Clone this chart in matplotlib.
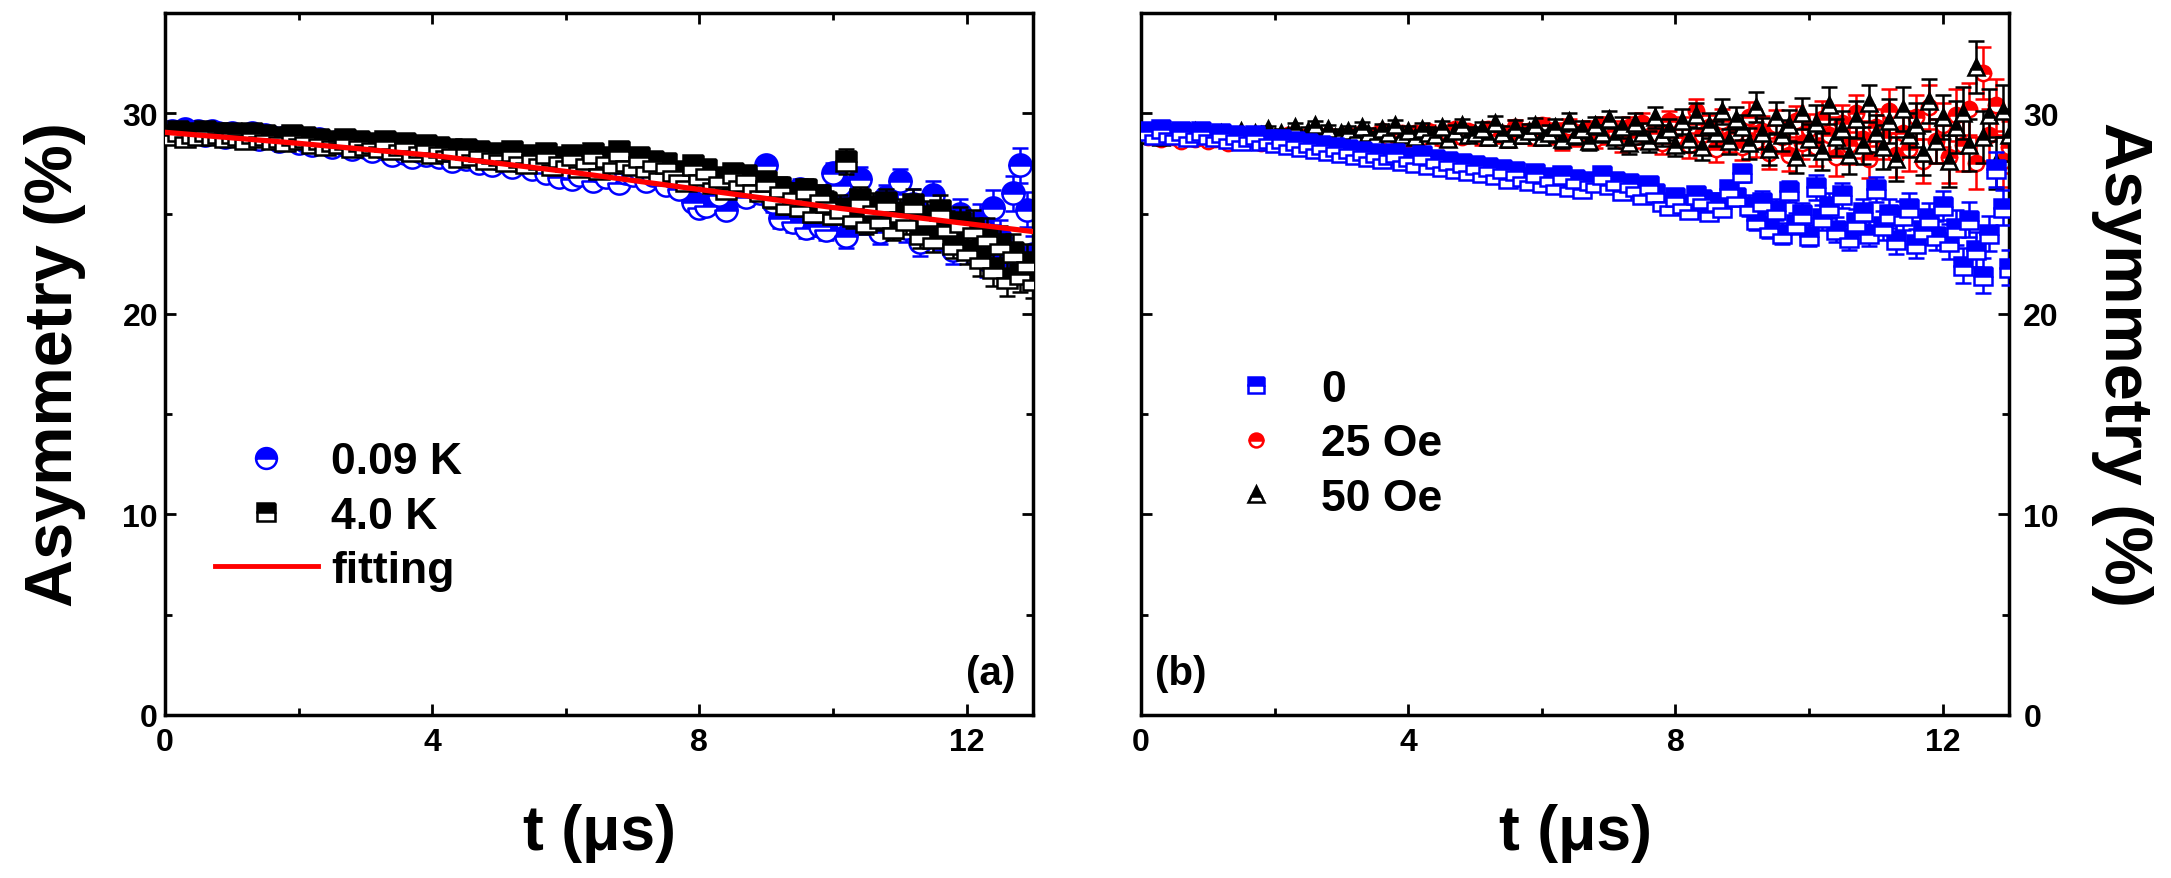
import numpy as np
import matplotlib
matplotlib.use("Agg")
import matplotlib.pyplot as plt
from matplotlib.lines import Line2D

# time bins (us)
t = [0.1, 0.2, 0.3, 0.4, 0.5, 0.6, 0.7, 0.8, 0.9, 1.0,
     1.1, 1.2, 1.3, 1.4, 1.5, 1.6, 1.7, 1.8, 1.9, 2.0,
     2.1, 2.2, 2.3, 2.4, 2.5, 2.6, 2.7, 2.8, 2.9, 3.0,
     3.1, 3.2, 3.3, 3.4, 3.5, 3.6, 3.7, 3.8, 3.9, 4.0,
     4.1, 4.2, 4.3, 4.4, 4.5, 4.6, 4.7, 4.8, 4.9, 5.0,
     5.1, 5.2, 5.3, 5.4, 5.5, 5.6, 5.7, 5.8, 5.9, 6.0,
     6.1, 6.2, 6.3, 6.4, 6.5, 6.6, 6.7, 6.8, 6.9, 7.0,
     7.1, 7.2, 7.3, 7.4, 7.5, 7.6, 7.7, 7.8, 7.9, 8.0,
     8.1, 8.2, 8.3, 8.4, 8.5, 8.6, 8.7, 8.8, 8.9, 9.0,
     9.1, 9.2, 9.3, 9.4, 9.5, 9.6, 9.7, 9.8, 9.9, 10.0,
     10.1, 10.2, 10.3, 10.4, 10.5, 10.6, 10.7, 10.8, 10.9, 11.0,
     11.1, 11.2, 11.3, 11.4, 11.5, 11.6, 11.7, 11.8, 11.9, 12.0,
     12.1, 12.2, 12.3, 12.4, 12.5, 12.6, 12.7, 12.8, 12.9, 13.0]

# (a) 0.09 K
a_009K = [29.1, 29.0, 29.2, 29.0, 29.1, 28.9, 29.1, 29.0, 28.8, 29.0,
          28.9, 28.8, 29.0, 28.7, 28.9, 28.8, 28.6, 28.8, 28.7, 28.5,
          28.6, 28.4, 28.7, 28.5, 28.3, 28.6, 28.4, 28.2, 28.5, 28.3,
          28.1, 28.4, 28.2, 27.9, 28.3, 28.0, 27.8, 28.1, 27.9, 28.2,
          27.8, 28.0, 27.6, 27.9, 27.7, 28.1, 27.5, 27.8, 27.4, 27.7,
          27.9, 27.3, 27.6, 27.8, 27.2, 27.5, 27.0, 27.4, 26.8, 27.3,
          26.7, 26.9, 27.5, 26.6, 27.1, 26.8, 27.3, 26.5, 27.0, 26.9,
          27.2, 26.6, 26.9, 27.1, 26.4, 26.8, 26.2, 26.9, 25.6, 25.3,
          25.4, 26.5, 25.9, 25.2, 26.7, 26.1, 25.8, 26.3, 26.0, 27.4,
          25.6, 24.8, 25.9, 24.6, 26.2, 24.3, 25.1, 24.4, 24.2, 27.0,
          26.4, 23.9, 25.5, 26.7, 24.6, 25.2, 24.1, 25.8, 24.9, 26.6,
          24.3, 25.5, 23.6, 24.8, 25.9, 23.9, 24.5, 23.2, 25.0, 24.0,
          23.4, 24.6, 22.7, 25.3, 23.8, 22.4, 26.0, 27.4, 25.2, 23.0]
# (a) 4.0 K
a_40K = [28.9, 29.1, 28.8, 29.0, 28.9, 29.1, 28.9, 29.0, 28.8, 29.0,
         28.9, 28.7, 29.0, 28.8, 28.9, 28.7, 28.8, 28.6, 28.9, 28.7,
         28.8, 28.5, 28.7, 28.4, 28.6, 28.5, 28.7, 28.3, 28.6, 28.4,
         28.5, 28.3, 28.6, 28.2, 28.4, 28.5, 28.1, 28.3, 28.4, 28.0,
         28.3, 28.1, 28.2, 27.8, 28.2, 27.9, 28.1, 27.7, 28.0, 27.9,
         27.6, 28.1, 27.8, 27.5, 27.9, 27.7, 28.0, 27.4, 27.8, 27.6,
         27.9, 27.3, 27.7, 28.0, 27.2, 27.8, 27.5, 28.1, 27.6, 27.4,
         27.8, 27.3, 27.6, 27.0, 27.5, 27.1, 26.9, 26.6, 27.4, 26.9,
         27.2, 26.5, 26.8, 26.2, 27.0, 26.6, 26.9, 26.4, 26.1, 26.6,
         25.8, 26.3, 25.5, 26.0, 25.4, 26.2, 25.1, 25.9, 25.6, 25.0,
         25.3, 27.6, 24.9, 25.7, 24.6, 25.4, 24.8, 25.6, 24.3, 25.1,
         24.7, 25.5, 24.0, 24.9, 23.8, 25.2, 24.4, 23.5, 24.6, 23.2,
         24.3, 22.8, 23.9, 22.3, 23.5, 21.8, 23.1, 22.0, 22.6, 21.7]

# (a) fitting curve
fit_t = [0.0, 2.0, 4.0, 6.0, 8.0, 10.0, 12.0, 13.0]
fit_y = [29.05, 28.5, 27.9, 27.1, 26.2, 25.3, 24.5, 24.1]

# (b) zero field
b_0 = [29.1, 28.9, 29.2, 29.0, 28.9, 29.1, 28.8, 29.0, 29.1, 28.9,
       28.8, 29.0, 28.7, 28.9, 28.6, 28.8, 28.9, 28.6, 28.7, 28.5,
       28.7, 28.4, 28.6, 28.3, 28.5, 28.2, 28.4, 28.1, 28.3, 28.0,
       28.2, 27.9, 28.1, 27.8, 28.0, 27.7, 27.9, 28.0, 27.6, 27.8,
       27.5, 27.9, 27.4, 27.7, 27.3, 27.6, 27.2, 27.5, 27.1, 27.4,
       27.0, 27.3, 26.9, 27.2, 26.7, 27.1, 26.8, 26.6, 27.0, 26.5,
       26.8, 26.4, 26.9, 26.3, 26.7, 26.2, 26.6, 26.5, 26.9, 26.4,
       26.6, 26.1, 26.5, 26.3, 25.9, 26.4, 26.0, 25.6, 25.4, 25.8,
       25.5, 25.2, 25.9, 25.7, 25.1, 25.6, 25.3, 26.2, 25.8, 27.0,
       25.4, 24.7, 25.6, 24.3, 25.2, 24.0, 26.1, 24.5, 25.0, 23.9,
       26.3, 24.8, 25.4, 24.2, 25.9, 23.8, 24.6, 25.1, 24.0, 26.2,
       24.4, 25.0, 23.7, 24.9, 25.3, 23.5, 24.2, 24.8, 23.9, 25.4,
       23.6, 24.3, 22.4, 24.7, 23.2, 21.9, 24.0, 27.2, 25.3, 22.3]
# (b) 25 Oe
b_25 = [28.8, 28.9, 28.7, 28.9, 28.8, 28.6, 28.9, 28.7, 28.8, 28.6,
        28.7, 28.8, 28.5, 28.8, 28.6, 28.7, 28.9, 28.5, 28.7, 28.8,
        28.6, 28.9, 28.7, 28.8, 28.6, 29.0, 28.7, 28.9, 28.8, 28.7,
        28.9, 28.8, 29.0, 28.7, 28.9, 29.1, 28.8, 28.9, 29.0, 28.7,
        29.0, 28.8, 29.1, 28.9, 28.7, 29.0, 29.2, 28.8, 29.1, 28.9,
        28.8, 29.2, 28.9, 29.0, 28.7, 29.3, 28.9, 29.1, 28.8, 29.4,
        28.9, 29.1, 28.6, 29.3, 28.8, 29.0, 29.2, 28.7, 29.4, 28.9,
        29.1, 28.6, 29.3, 28.8, 29.5, 28.9, 29.0, 28.5, 29.6, 28.8,
        29.2, 28.4, 30.1, 28.9, 29.3, 28.2, 29.6, 28.7, 29.0, 28.3,
        29.8, 28.6, 29.1, 28.0, 29.4, 28.8, 27.9, 29.6, 28.5, 29.2,
        28.3, 29.7, 28.9, 27.8, 29.5, 28.4, 30.0, 28.7, 27.7, 29.3,
        28.8, 30.1, 27.9, 29.0, 28.2, 29.8, 27.6, 30.3, 28.6, 29.4,
        27.8, 29.9, 28.4, 30.2, 27.5, 32.0, 28.9, 30.4, 27.6, 28.3]
# (b) 50 Oe
b_50 = [28.9, 29.0, 28.8, 29.1, 28.9, 29.0, 28.8, 29.1, 28.9, 29.0,
        28.8, 29.0, 28.9, 28.7, 29.1, 28.8, 29.0, 28.9, 29.2, 28.8,
        29.0, 28.9, 29.3, 28.8, 29.1, 29.4, 28.9, 29.2, 28.8, 29.0,
        29.1, 28.9, 29.3, 29.0, 28.8, 29.2, 29.0, 29.4, 28.9, 29.1,
        28.8, 29.2, 29.0, 28.9, 29.3, 28.7, 29.1, 29.4, 28.9, 29.0,
        29.2, 28.8, 29.5, 29.0, 28.7, 29.3, 28.9, 29.1, 29.4, 28.8,
        29.0, 29.3, 28.7, 29.6, 28.9, 29.2, 28.6, 29.4, 29.0, 29.7,
        28.8, 29.3, 28.5, 29.5, 29.0, 28.6, 29.8, 28.9, 29.2, 28.4,
        29.6, 28.7, 29.9, 28.3, 29.4, 29.0, 30.1, 28.6, 29.7, 29.3,
        28.5, 30.3, 29.0, 28.2, 29.8, 28.9, 29.4, 27.8, 30.0, 28.7,
        29.5, 28.1, 30.4, 28.8, 29.2, 27.9, 29.7, 28.4, 30.5, 29.0,
        28.3, 29.6, 27.7, 30.2, 28.9, 29.4, 28.0, 30.6, 28.6, 29.8,
        27.6, 29.3, 30.0, 28.4, 32.3, 28.8, 29.9, 27.5, 30.1, 28.9]

# error bar size for each 1 us stretch of data (0-1, 1-2, ..., 12-13)
err_a_009K = [0.12, 0.14, 0.16, 0.19, 0.22, 0.26, 0.31, 0.37, 0.44, 0.52, 0.62, 0.74, 0.88]
err_a_40K = [0.12, 0.14, 0.16, 0.19, 0.22, 0.26, 0.31, 0.37, 0.44, 0.52, 0.62, 0.74, 0.90]
err_b_0 = [0.12, 0.14, 0.16, 0.19, 0.22, 0.26, 0.31, 0.37, 0.44, 0.52, 0.62, 0.74, 0.88]
err_b_25 = [0.15, 0.18, 0.21, 0.25, 0.30, 0.36, 0.43, 0.52, 0.63, 0.76, 0.92, 1.10, 1.30]
err_b_50 = [0.15, 0.18, 0.21, 0.25, 0.30, 0.36, 0.43, 0.52, 0.63, 0.76, 0.92, 1.10, 1.30]


def per_point(err):
    return np.repeat(err, 10)


def style_axis(ax, side):
    ax.set_xlim(0, 13)
    ax.set_ylim(0, 35)
    ax.set_xticks([0, 4, 8, 12])
    ax.set_xticks([2, 6, 10], minor=True)
    ax.set_yticks([0, 10, 20, 30])
    ax.set_yticks([5, 15, 25], minor=True)
    for sp in ax.spines.values():
        sp.set_linewidth(2.5)
    ax.tick_params(which='both', direction='in', top=True, bottom=True,
                   left=True, right=True, width=2)
    ax.tick_params(which='major', length=8, labelsize=23)
    ax.tick_params(which='minor', length=5)
    ax.tick_params(axis='x', pad=9)
    if side == 'left':
        ax.tick_params(axis='y', labelleft=True, labelright=False, pad=5)
    else:
        ax.tick_params(axis='y', labelleft=False, labelright=True, pad=10)
    for lab in ax.get_xticklabels() + ax.get_yticklabels():
        lab.set_fontweight('bold')
    ax.set_xlabel('t (μs)', fontsize=45, fontweight='bold', labelpad=33)


def draw_series(ax, y, err, marker, color, ms, z):
    ax.errorbar(t, y, yerr=per_point(err), fmt=marker, color=color,
                ecolor=color, mec=color, mfc=color, mfcalt='white',
                fillstyle='top', ms=ms, mew=1.8, elinewidth=1.8,
                capsize=6, capthick=3, zorder=z)


def key(marker, color, ms, label):
    return Line2D([], [], ls='none', marker=marker, color=color, mec=color,
                  mfc=color, mfcalt='white', fillstyle='top', ms=ms, mew=1.8,
                  label=label)


plt.rcParams['font.family'] = ['Liberation Sans', 'DejaVu Sans']
plt.rcParams['font.weight'] = 'bold'

fig = plt.figure(figsize=(21.71, 8.79), dpi=100)
ax1 = fig.add_axes([0.076, 0.1855, 0.400, 0.7986])
ax2 = fig.add_axes([0.5256, 0.1855, 0.400, 0.7986])

legend_kw = dict(loc='upper left', frameon=False, fontsize=32, numpoints=1,
                 handlelength=2.3, handletextpad=0.3, labelspacing=0.3,
                 borderpad=0, borderaxespad=0)

# panel (a)
draw_series(ax1, a_009K, err_a_009K, 'o', 'blue', 16, 2)
draw_series(ax1, a_40K, err_a_40K, 's', 'black', 14.5, 3)
ax1.plot(fit_t, fit_y, color='red', lw=3.8, zorder=4)
style_axis(ax1, 'left')
ax1.set_ylabel('Asymmetry (%)', fontsize=48, fontweight='bold', labelpad=26)
handles_a = [key('o', 'blue', 15, '0.09 K'), key('s', 'black', 13, '4.0 K'),
             Line2D([], [], color='red', lw=3.5, label='fitting')]
ax1.legend(handles=handles_a, bbox_to_anchor=(0.058, 0.39), **legend_kw)
ax1.text(0.979, 0.06, '(a)', transform=ax1.transAxes, ha='right', va='center',
         fontsize=29, fontweight='bold')

# panel (b)
draw_series(ax2, b_25, err_b_25, 'o', 'red', 11, 2)
draw_series(ax2, b_50, err_b_50, '^', 'black', 12, 3)
draw_series(ax2, b_0, err_b_0, 's', 'blue', 13, 4)
style_axis(ax2, 'right')
ax2.yaxis.set_label_position('right')
ax2.set_ylabel('Asymmetry (%)', fontsize=48, fontweight='bold', rotation=-90,
               labelpad=68)
handles_b = [key('s', 'blue', 12, '0'), key('o', 'red', 10, '25 Oe'),
             key('^', 'black', 11, '50 Oe')]
ax2.legend(handles=handles_b, bbox_to_anchor=(0.074, 0.493), **legend_kw)
ax2.text(0.016, 0.06, '(b)', transform=ax2.transAxes, ha='left', va='center',
         fontsize=29, fontweight='bold')

fig.savefig('out.png', dpi=100)
